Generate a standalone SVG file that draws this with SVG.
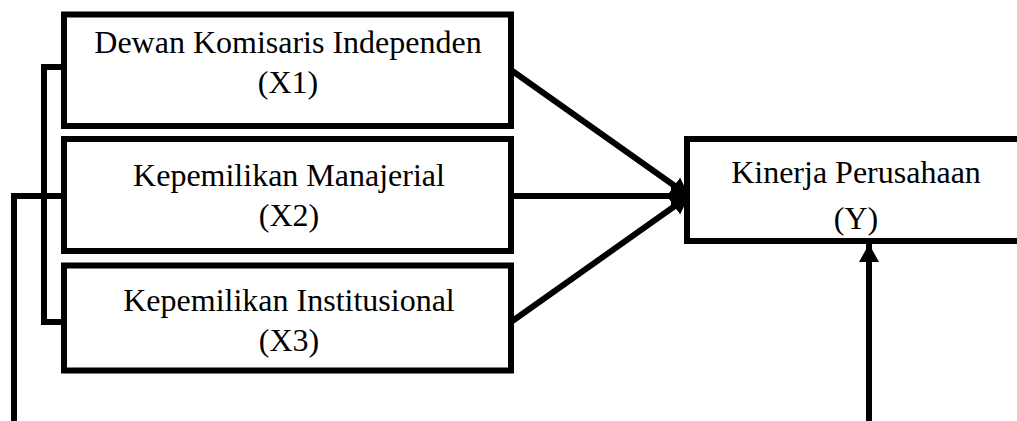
<svg xmlns="http://www.w3.org/2000/svg" width="1017" height="421" viewBox="0 0 1017 421">
<style>
.box{fill:#fff;stroke:#000;stroke-width:6}
.ln{fill:none;stroke:#000;stroke-width:6}
text{font-family:"Liberation Serif","Times New Roman",serif;font-size:32px;fill:#000;text-anchor:middle}
</style>
<defs>
<marker id="ah" markerUnits="userSpaceOnUse" markerWidth="20" markerHeight="22" refX="18" refY="11" orient="auto" viewBox="0 0 20 22">
<path d="M0,1 L18,11 L0,21 z" fill="#000"/>
</marker>
</defs>
<rect width="1017" height="421" fill="#fff"/>
<g id="connectors">
<path class="ln" d="M64,67 H44 V322 H64"/>
<path class="ln" d="M64,196 H14 V421"/>
<line class="ln" x1="511" y1="70" x2="689" y2="196" marker-end="url(#ah)"/>
<line class="ln" x1="511" y1="196" x2="689" y2="196" marker-end="url(#ah)"/>
<line class="ln" x1="511" y1="322" x2="689" y2="196" marker-end="url(#ah)"/>
<line class="ln" x1="869" y1="421" x2="869" y2="244" marker-end="url(#ah)"/>
</g>
<g id="x1">
<rect class="box" x="64" y="14.5" width="447" height="111.5"/>
<text x="288" y="53">Dewan Komisaris Independen</text>
<text x="288" y="93">(X1)</text>
</g>
<g id="x2">
<rect class="box" x="64" y="139" width="447" height="112"/>
<text x="289" y="186">Kepemilikan Manajerial</text>
<text x="289" y="226">(X2)</text>
</g>
<g id="x3">
<rect class="box" x="64" y="265.5" width="447" height="105"/>
<text x="289" y="311">Kepemilikan Institusional</text>
<text x="289" y="351">(X3)</text>
</g>
<g id="y">
<rect class="box" x="687" y="139" width="400" height="102"/>
<text x="856" y="183">Kinerja Perusahaan</text>
<text x="856" y="229">(Y)</text>
</g>
</svg>
